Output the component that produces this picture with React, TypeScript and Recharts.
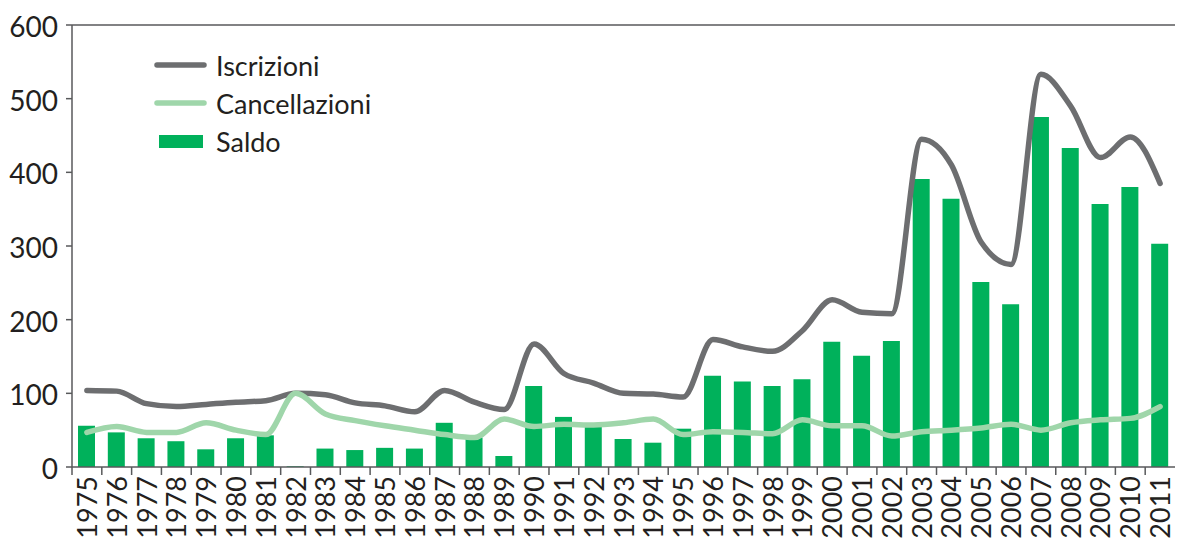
import { ComposedChart, Bar, Line, XAxis, YAxis, ReferenceLine } from 'recharts'

const years = [
  '1975', '1976', '1977', '1978', '1979', '1980', '1981', '1982', '1983', '1984',
  '1985', '1986', '1987', '1988', '1989', '1990', '1991', '1992', '1993', '1994',
  '1995', '1996', '1997', '1998', '1999', '2000', '2001', '2002', '2003', '2004',
  '2005', '2006', '2007', '2008', '2009', '2010', '2011',
]

const iscrizioni = [
  104, 103, 86, 82, 85, 88, 90, 100, 98, 87,
  83, 75, 104, 88, 78, 167, 127, 114, 100, 99,
  95, 173, 163, 157, 185, 227, 210, 208, 445, 410,
  305, 275, 533, 490, 420, 448, 385,
]

const cancellazioni = [
  47, 55, 47, 47, 60, 50, 44, 100, 72, 63,
  56, 50, 44, 40, 65, 55, 58, 57, 60, 65,
  44, 48, 47, 45, 64, 56, 56, 42, 48, 50,
  53, 58, 50, 60, 64, 66, 82,
]

const saldo = [
  56, 47, 39, 35, 24, 39, 43, 1, 25, 23,
  26, 25, 60, 40, 15, 110, 68, 57, 38, 33,
  52, 124, 116, 110, 119, 170, 151, 171, 391, 364,
  251, 221, 475, 433, 357, 380, 303,
]

const yTicks = [0, 100, 200, 300, 400, 500, 600]

const data = years.map((year, i) => ({
  year,
  iscrizioni: iscrizioni[i],
  cancellazioni: cancellazioni[i],
  saldo: saldo[i],
}))

const FONT = 'Lato, "Open Sans", sans-serif'
const TEXT = '#231f20'
const AXIS = '#58595b'
const GREY = '#6d6e70'
const LIGHT = '#9fd6aa'
const GREEN = '#00b15b'

const WIDTH = 1180
const HEIGHT = 541
const PLOT_LEFT = 72
const PLOT_RIGHT = 5
const STEP = (WIDTH - PLOT_LEFT - PLOT_RIGHT) / years.length

function YearTick(props: any) {
  const { x, y, payload } = props
  const tx = x + 10
  const ty = y + 9
  return (
    <g>
      <line x1={x - STEP / 2} x2={x - STEP / 2} y1={y} y2={y + 8} stroke={AXIS} strokeWidth={1.5} />
      <text
        x={tx}
        y={ty}
        transform={`rotate(-90, ${tx}, ${ty})`}
        textAnchor="end"
        fontSize={27}
        fontFamily={FONT}
        fill={TEXT}
      >
        {payload.value}
      </text>
    </g>
  )
}

// legend drawn as an overlay so it doesn't push the plot down
function ChartLegend() {
  const rows = [
    { label: 'Iscrizioni', kind: 'line', color: GREY },
    { label: 'Cancellazioni', kind: 'line', color: LIGHT },
    { label: 'Saldo', kind: 'bar', color: GREEN },
  ]
  return (
    <div style={{ position: 'absolute', left: 152, top: 46, fontFamily: FONT, fontSize: 27, color: TEXT }}>
      {rows.map((r) => (
        <div key={r.label} style={{ display: 'flex', alignItems: 'center', height: 38 }}>
          <svg width={58} height={20} style={{ marginRight: 6 }}>
            {r.kind === 'line' ? (
              <line x1={5} x2={52} y1={10} y2={10} stroke={r.color} strokeWidth={5.5} strokeLinecap="round" />
            ) : (
              <rect x={7} y={4} width={44} height={13} fill={r.color} />
            )}
          </svg>
          <span>{r.label}</span>
        </div>
      ))}
    </div>
  )
}

export default function App() {
  return (
    <div style={{ position: 'absolute', left: 0, top: 0, width: WIDTH, height: HEIGHT, background: '#fff', overflow: 'hidden' }}>
      <ComposedChart
        width={WIDTH}
        height={HEIGHT}
        data={data}
        margin={{ top: 25, right: PLOT_RIGHT, left: 0, bottom: 0 }}
        barCategoryGap={0}
      >
        <XAxis
          dataKey="year"
          interval={0}
          height={74}
          tickLine={false}
          tickSize={0}
          tickMargin={0}
          axisLine={{ stroke: AXIS, strokeWidth: 1.5 }}
          tick={<YearTick />}
        />
        <YAxis
          domain={[0, 600]}
          ticks={yTicks}
          width={PLOT_LEFT}
          tickSize={6}
          tickMargin={8}
          axisLine={{ stroke: AXIS, strokeWidth: 1.5 }}
          tickLine={{ stroke: AXIS, strokeWidth: 1.5 }}
          tick={{ fontSize: 28, fontFamily: FONT, fill: TEXT, dy: 2 }}
        />
        <ReferenceLine y={600} stroke={AXIS} strokeWidth={1.5} />
        <Bar dataKey="saldo" name="Saldo" fill={GREEN} barSize={17} isAnimationActive={false} />
        <Line
          type="monotone"
          dataKey="iscrizioni"
          name="Iscrizioni"
          stroke={GREY}
          strokeWidth={5.5}
          dot={false}
          activeDot={false}
          strokeLinecap="round"
          isAnimationActive={false}
        />
        <Line
          type="monotone"
          dataKey="cancellazioni"
          name="Cancellazioni"
          stroke={LIGHT}
          strokeWidth={5.5}
          dot={false}
          activeDot={false}
          strokeLinecap="round"
          isAnimationActive={false}
        />
      </ComposedChart>
      <ChartLegend />
    </div>
  )
}
